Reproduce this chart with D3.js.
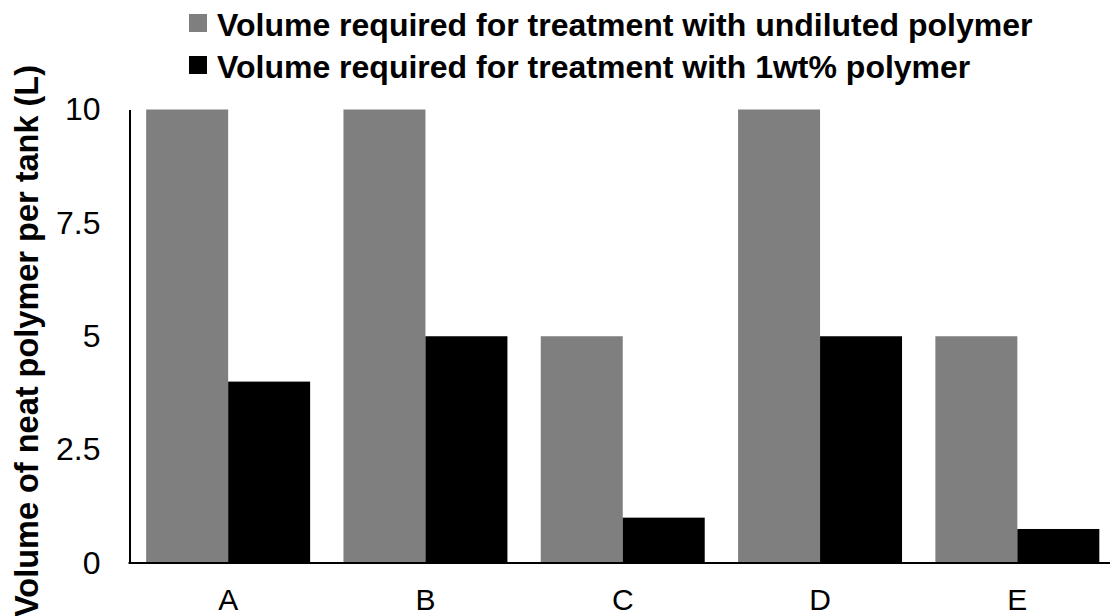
<!DOCTYPE html>
<html>
<head>
<meta charset="utf-8">
<script src="https://cdn.jsdelivr.net/npm/d3@7"></script>
<style>
  html, body { margin: 0; padding: 0; background: #fff; }
  svg { display: block; font-family: "Liberation Sans", Arial, Helvetica, sans-serif; }
</style>
</head>
<body>
<svg id="chart" width="1110" height="616"></svg>
<script>
// Tank categories and polymer volumes (L)
const categories = ["A", "B", "C", "D", "E"];
const undiluted = [10, 10, 5, 10, 5];
const onePercent = [4, 5, 1, 5, 0.75];
const seriesNames = [
  "Volume required for treatment with undiluted polymer",
  "Volume required for treatment with 1wt% polymer"
];
const seriesColors = ["#7f7f7f", "#000000"];
const yTicks = [0, 2.5, 5, 7.5, 10];
const yTickLabels = ["0", "2.5", "5", "7.5", "10"];
const yTitle = "Volume of neat polymer per tank (L)";

const svg = d3.select("#chart");

const x0 = d3.scaleBand()
  .domain(categories)
  .range([129.5, 1116])
  .paddingInner(0.169)
  .paddingOuter(0.0845);

const x1 = d3.scaleBand()
  .domain([0, 1])
  .range([0, x0.bandwidth()]);

const y = d3.scaleLinear().domain([0, 10]).range([563, 109.5]);

const series = [undiluted, onePercent];

// Bars
const groups = svg.append("g")
  .selectAll("g")
  .data(categories)
  .join("g")
  .attr("transform", d => `translate(${x0(d)},0)`);

groups.selectAll("rect")
  .data((d, i) => series.map((s, k) => ({ k, v: s[i] })))
  .join("rect")
  .attr("x", d => x1(d.k))
  .attr("width", x1.bandwidth())
  .attr("y", d => y(d.v))
  .attr("height", d => y(0) - y(d.v))
  .attr("fill", d => seriesColors[d.k]);

// Y axis: line only, labels without tick marks
const yAxis = svg.append("g")
  .attr("transform", "translate(129.5,0)")
  .call(d3.axisLeft(y).tickValues(yTicks)
    .tickFormat((d, i) => yTickLabels[i])
    .tickSize(0).tickSizeOuter(0).tickPadding(29));
yAxis.select(".domain").attr("stroke", "#000").attr("stroke-width", 2);
yAxis.selectAll("text")
  .style("font-size", "32px")
  .style("font-family", "'Liberation Sans', Arial, sans-serif")
  .attr("fill", "#000");

// X axis
const xAxis = svg.append("g")
  .attr("transform", `translate(0,${y(0)})`)
  .call(d3.axisBottom(x0).tickSize(0).tickSizeOuter(0).tickPadding(25.5));
xAxis.select(".domain").attr("stroke", "#000").attr("stroke-width", 2)
  .attr("d", `M128.5,0H1110`);
xAxis.selectAll("text")
  .style("font-size", "30px")
  .style("font-family", "'Liberation Sans', Arial, sans-serif")
  .attr("fill", "#000");

// Y axis title
svg.append("text")
  .attr("transform", "translate(38,341) rotate(-90)")
  .attr("text-anchor", "middle")
  .style("font-size", "32.5px")
  .attr("font-weight", "bold")
  .attr("fill", "#000")
  .text(yTitle);

// Legend
const legend = svg.append("g");
const rows = legend.selectAll("g")
  .data(seriesNames)
  .join("g")
  .attr("transform", (d, i) => `translate(189,${14 + i * 42})`);
rows.append("rect")
  .attr("width", 18).attr("height", 18)
  .attr("fill", (d, i) => seriesColors[i]);
rows.append("text")
  .attr("x", 28)
  .attr("y", 22)
  .style("font-size", "32px")
  .attr("font-weight", "bold")
  .attr("fill", "#000")
  .text(d => d);
</script>
</body>
</html>
